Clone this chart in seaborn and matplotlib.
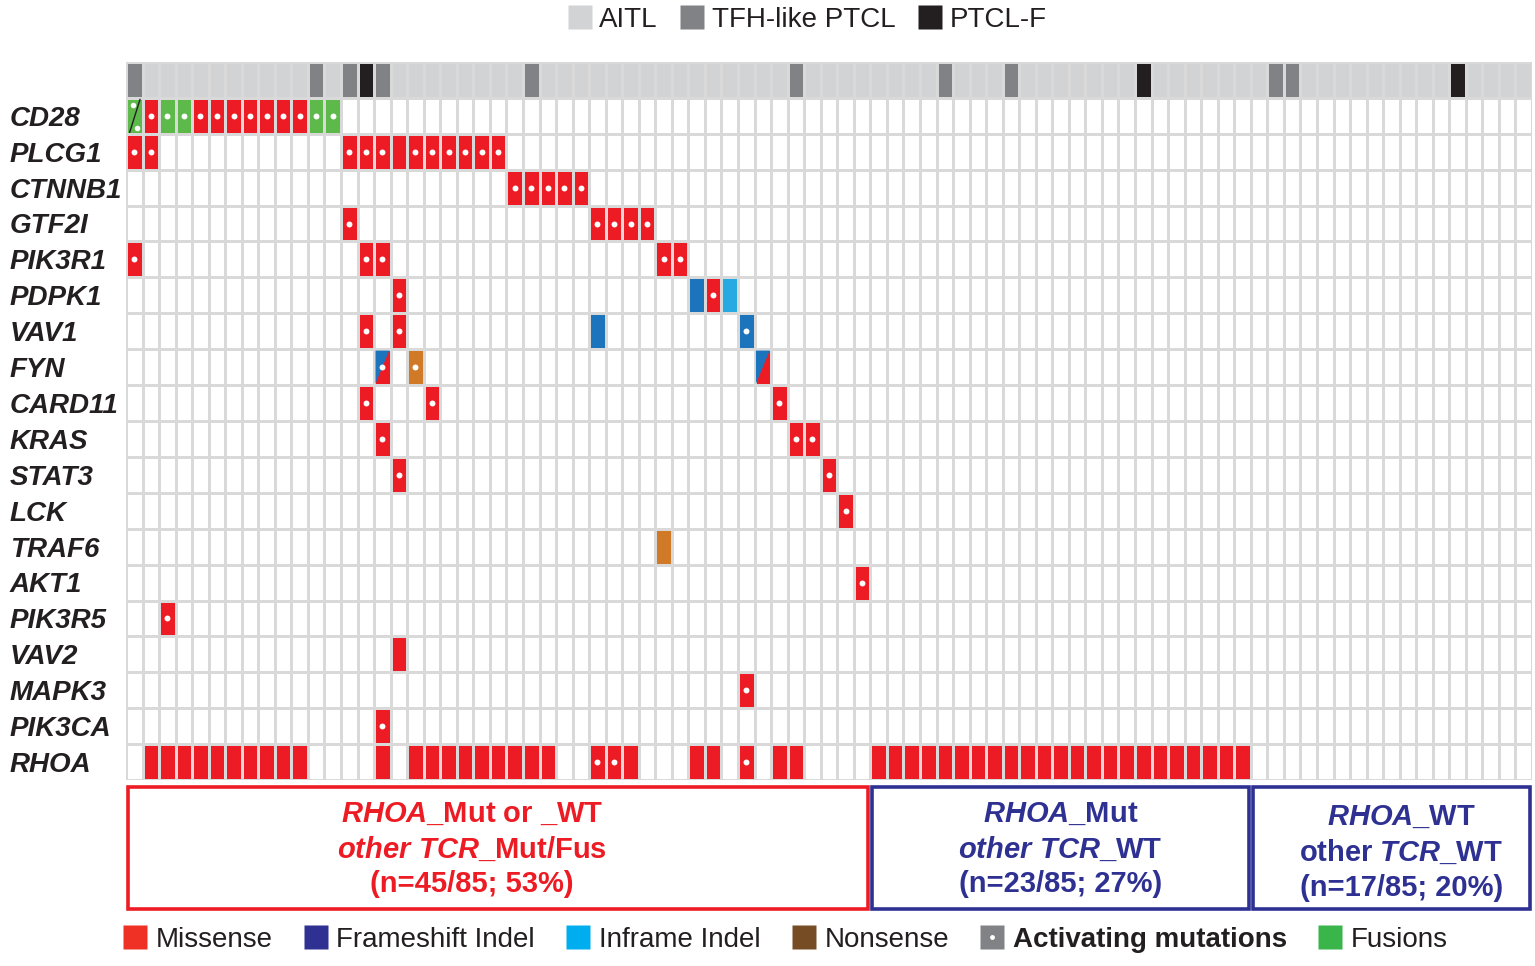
import numpy as np
import pandas as pd
import seaborn as sns
import matplotlib
matplotlib.use("Agg")
import matplotlib.pyplot as plt
from matplotlib.colors import ListedColormap
from matplotlib.patches import Rectangle, Polygon
from matplotlib.lines import Line2D
from matplotlib.legend_handler import HandlerTuple
from matplotlib.transforms import blended_transform_factory

genes = ["CD28", "PLCG1", "CTNNB1", "GTF2I", "PIK3R1", "PDPK1", "VAV1", "FYN", "CARD11",
         "KRAS", "STAT3", "LCK", "TRAF6", "AKT1", "PIK3R5", "VAV2", "MAPK3", "PIK3CA", "RHOA"]
n_cases = 85

# subtype per case (column index); all other cases are AITL
subtype_names = ["AITL", "TFH-like PTCL", "PTCL-F"]
tfh_like = [0, 11, 13, 15, 24, 40, 49, 53, 69, 70]
ptcl_f = [14, 61, 80]

# mutated cases per gene
missense = {
    "CD28": [1, 4, 5, 6, 7, 8, 9, 10],
    "PLCG1": [0, 1, 13, 14, 15, 16, 17, 18, 19, 20, 21, 22],
    "CTNNB1": [23, 24, 25, 26, 27],
    "GTF2I": [13, 28, 29, 30, 31],
    "PIK3R1": [0, 14, 15, 32, 33],
    "PDPK1": [16, 35],
    "VAV1": [14, 16],
    "CARD11": [14, 18, 39],
    "KRAS": [15, 40, 41],
    "STAT3": [16, 42],
    "LCK": [43],
    "AKT1": [44],
    "PIK3R5": [2],
    "VAV2": [16],
    "MAPK3": [37],
    "PIK3CA": [15],
    "RHOA": [1, 2, 3, 4, 5, 6, 7, 8, 9, 10, 15, 17, 18, 19, 20, 21, 22, 23, 24, 25,
             28, 29, 30, 34, 35, 37, 39, 40,
             45, 46, 47, 48, 49, 50, 51, 52, 53, 54, 55, 56, 57, 58, 59, 60, 61, 62,
             63, 64, 65, 66, 67],
}
frameshift = {"PDPK1": [34], "VAV1": [28, 37]}
inframe = {"PDPK1": [36]}
nonsense = {"FYN": [17], "TRAF6": [32]}
fusion = {"CD28": [0, 2, 3, 11, 12]}
# cells holding two events (frameshift + missense, or two fusions)
frameshift_missense = {"FYN": [15, 38]}
double_fusion = {"CD28": [0]}

activating = {
    "CD28": [1, 2, 3, 4, 5, 6, 7, 8, 9, 10, 11, 12],
    "PLCG1": [0, 1, 13, 14, 15, 17, 18, 19, 20, 21, 22],
    "CTNNB1": [23, 24, 25, 26, 27],
    "GTF2I": [13, 28, 29, 30, 31],
    "PIK3R1": [0, 14, 15, 32, 33],
    "PDPK1": [16, 35],
    "VAV1": [14, 16, 37],
    "FYN": [15, 17],
    "CARD11": [14, 18, 39],
    "KRAS": [15, 40, 41],
    "STAT3": [16, 42],
    "LCK": [43],
    "AKT1": [44],
    "PIK3R5": [2],
    "MAPK3": [37],
    "PIK3CA": [15],
    "RHOA": [28, 29, 37],
}

group_sizes = [45, 23, 17]
group_lines = [
    [r"$\mathit{RHOA}$_Mut or _WT", r"$\mathit{other\ TCR}$_Mut/Fus", "(n=45/85; 53%)"],
    [r"$\mathit{RHOA}$_Mut", r"$\mathit{other\ TCR}$_WT", "(n=23/85; 27%)"],
    [r"$\mathit{RHOA}$_WT", r"other $\mathit{TCR}$_WT", "(n=17/85; 20%)"],
]
group_colors = ["#ED1C24", "#2E3192", "#2E3192"]

legend_names = ["Missense", "Frameshift Indel", "Inframe Indel", "Nonsense",
                "Activating mutations", "Fusions"]
legend_colors = ["#EE3124", "#2E3192", "#00AEEF", "#754C24", "#808285", "#39B54A"]

# colour codes for the heatmap
palette = ["#FFFFFF", "#D1D3D4", "#808285", "#231F20",
           "#ED1C24", "#1C75BC", "#27AAE1", "#D07A28", "#5DB94A"]
subtype_colors = palette[1:4]

mat = np.zeros((len(genes) + 1, n_cases), dtype=int)
mat[0, :] = 1
mat[0, tfh_like] = 2
mat[0, ptcl_f] = 3
for code, table in [(4, missense), (5, frameshift), (6, inframe), (7, nonsense), (8, fusion),
                    (4, frameshift_missense)]:
    for g, cols in table.items():
        mat[genes.index(g) + 1, cols] = code

sns.set_theme(style="white")
plt.rcParams["font.family"] = ["Liberation Sans", "DejaVu Sans"]
plt.rcParams["mathtext.fontset"] = "custom"
plt.rcParams["mathtext.it"] = "Liberation Sans:italic:bold"
plt.rcParams["mathtext.rm"] = "Liberation Sans:bold"
plt.rcParams["mathtext.bf"] = "Liberation Sans:bold"

W, H = 1535, 966
fig = plt.figure(figsize=(W / 100, H / 100), dpi=100)
x0, x1, y0, y1 = 126, 1532, 62, 780
ax = fig.add_axes([x0 / W, 1 - y1 / H, (x1 - x0) / W, (y1 - y0) / H])

lw = 2.0
sns.heatmap(pd.DataFrame(mat), cmap=ListedColormap(palette), vmin=-0.5, vmax=8.5,
            cbar=False, linewidths=lw, linecolor="#D9D9D9",
            xticklabels=False, yticklabels=False, ax=ax)

# inset of the coloured area inside each cell (half grid line)
half = lw * 100 / 72 / 2
dx = half / ((x1 - x0) / n_cases)
dy = half / ((y1 - y0) / (len(genes) + 1))

for g, cols in frameshift_missense.items():
    r = genes.index(g) + 1
    for c in cols:
        ax.add_patch(Polygon([(c + dx, r + dy), (c + 1 - dx, r + dy), (c + dx, r + 1 - dy)],
                             closed=True, facecolor=palette[5], edgecolor="none", zorder=2))

for g, cols in double_fusion.items():
    r = genes.index(g) + 1
    for c in cols:
        ax.plot([c + 0.22, c + 0.85], [r + 1 - dy, r + dy], color="#231F20", lw=1, zorder=3)
        ax.scatter([c + 0.4, c + 0.68], [r + 0.2, r + 0.84], s=16, color="white",
                   linewidths=0, zorder=4)

dot_x, dot_y = [], []
for g, cols in activating.items():
    r = genes.index(g) + 1
    for c in cols:
        dot_x.append(c + 0.5)
        dot_y.append(r + 0.5)
ax.scatter(dot_x, dot_y, s=18, color="white", linewidths=0, zorder=4)

# gene labels
trans = blended_transform_factory(fig.transFigure, ax.transData)
for i, g in enumerate(genes):
    ax.text(10 / W, i + 1.58, g, transform=trans, ha="left", va="center",
            fontsize=20, fontweight="bold", fontstyle="italic", color="#231F20")

# group boxes below the grid
line_pos = [[20.93, 21.93, 22.91], [20.93, 21.93, 22.91], [21.04, 22.02, 23.02]]
text_shift = [-1.6, 0.0, 0.6]
start = 0
for n, lines, col, ys, sh in zip(group_sizes, group_lines, group_colors, line_pos, text_shift):
    ax.add_patch(Rectangle((start + 0.12, 20.2), n - 0.24, 3.4, fill=False,
                           edgecolor=col, lw=2.6, clip_on=False))
    for line, yy in zip(lines, ys):
        ax.text(start + n / 2 + sh, yy, line, ha="center", va="center", fontsize=21,
                fontweight="bold", color=col)
    start += n

# subtype legend at top
top_handles = [Line2D([], [], marker="s", ls="none", markersize=17,
                      markerfacecolor=c, markeredgecolor="none") for c in subtype_colors]
leg1 = fig.legend(top_handles, subtype_names, loc="center", bbox_to_anchor=(807 / W, 1 - 20 / H),
                  ncol=3, frameon=False, fontsize=20, handlelength=0.9, handletextpad=0.25,
                  columnspacing=0.8, borderpad=0, borderaxespad=0)
for t in leg1.get_texts():
    t.set_color("#231F20")

# mutation type legend at bottom
bottom_handles = []
for name, c in zip(legend_names, legend_colors):
    sq = Line2D([], [], marker="s", ls="none", markersize=17,
                markerfacecolor=c, markeredgecolor="none")
    if name == "Activating mutations":
        dot = Line2D([], [], marker="o", ls="none", markersize=3.5,
                     markerfacecolor="white", markeredgecolor="none")
        bottom_handles.append((sq, dot))
    else:
        bottom_handles.append(sq)
leg2 = fig.legend(bottom_handles, legend_names, loc="center", bbox_to_anchor=(785 / W, 1 - 940 / H),
                  ncol=6, frameon=False, fontsize=20, handlelength=0.9, handletextpad=0.3,
                  columnspacing=1.1, borderpad=0, borderaxespad=0,
                  handler_map={tuple: HandlerTuple(ndivide=1)})
for t in leg2.get_texts():
    t.set_color("#231F20")
leg2.get_texts()[4].set_fontweight("bold")

fig.savefig("out.png", dpi=100)
